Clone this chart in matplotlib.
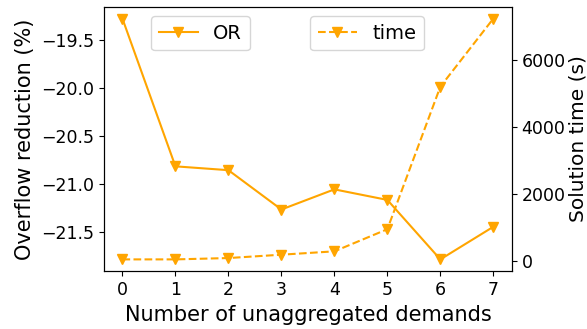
import matplotlib
matplotlib.use('Agg')
import matplotlib.pyplot as plt

# number of unaggregated demands
n_unagg = [0, 1, 2, 3, 4, 5, 6, 7]
# overflow reduction (%)
overflow_red = [-19.28, -20.82, -20.86, -21.27, -21.06, -21.17, -21.79, -21.45]
# solution time (s)
sol_time = [40, 40, 80, 180, 280, 940, 5190, 7220]

color = 'orange'

fig, ax = plt.subplots(figsize=(5.87, 3.29), dpi=100)
fig.subplots_adjust(left=0.177, right=0.872, top=0.98, bottom=0.175)

ax.plot(n_unagg, overflow_red, color=color, marker='v', linestyle='-',
        linewidth=1.5, markersize=6.5, label='OR')
ax.set_xlabel('Number of unaggregated demands', fontsize=15)
ax.set_ylabel('Overflow reduction (%)', fontsize=15)
ax.tick_params(labelsize=12.5)
ax.set_xticks(n_unagg)
ax.legend(loc='upper center', bbox_to_anchor=(0.237, 0.965), borderaxespad=0,
          fontsize=14, handlelength=2.0)

ax2 = ax.twinx()
ax2.plot(n_unagg, sol_time, color=color, marker='v', linestyle='--',
         linewidth=1.5, markersize=6.5, label='time')
ax2.set_ylabel('Solution time (s)', fontsize=14.5, labelpad=2)
ax2.tick_params(labelsize=12.5)
ax2.set_yticks([0, 2000, 4000, 6000])
ax2.legend(loc='upper center', bbox_to_anchor=(0.645, 0.965), borderaxespad=0,
           fontsize=14, handlelength=2.0)

plt.savefig('out.png', dpi=100, facecolor='white')
plt.close()
